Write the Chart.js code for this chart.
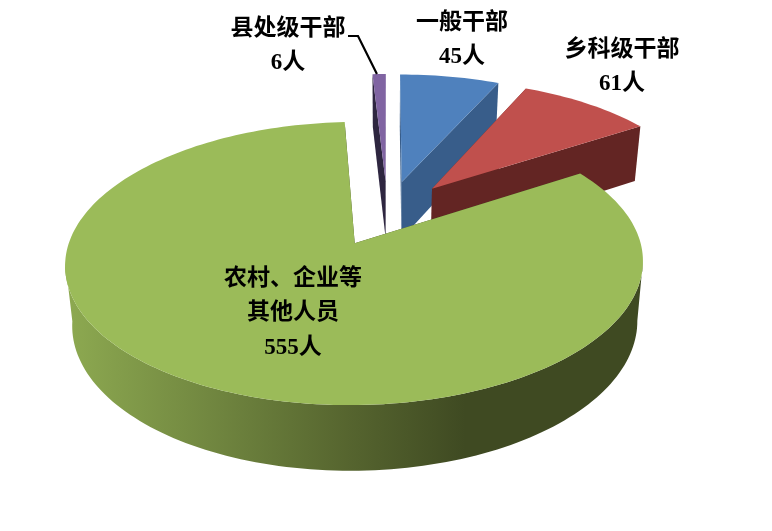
<!DOCTYPE html>
<html>
<head>
<meta charset="utf-8">
<style>
  html, body { margin: 0; padding: 0; background: #fff; }
</style>
<script src="https://cdn.jsdelivr.net/npm/chart.js@4"></script>
</head>
<body>
<canvas id="pieChart" width="772" height="531"></canvas>
<script>
const categories = ['一般干部', '乡科级干部', '农村、企业等\n其他人员', '县处级干部'];
const people = [45, 61, 555, 6];
const unit = '人';

const topColors = ['#4F81BD', '#C0504D', '#9BBB59', '#8064A2'];
const wallColors = ['#385D8A', '#632523', '#3F4A22', '#2E2640'];
const labelCenters = [[462, 23], [622, 50], [293, 279], [288, 29]];
const drawOrder = [3, 0, 1, 2];

// camera used to project the flat pie to the screen
const tilt = 0.47, cameraDist = 2000, depth = 58, bottomShrink = 0.978;

function project(arc, dx, dy, lower) {
    const s = cameraDist / (cameraDist - dy);
    const shrink = lower ? bottomShrink : 1;
    return [
        arc.x + dx * s * shrink,
        arc.y + dy * tilt * s * shrink + (lower ? depth * s : 0)
    ];
}

function outline(arc) {
    const mid = (arc.startAngle + arc.endAngle) / 2;
    const off = arc.options.offset;
    const ox = Math.cos(mid) * off, oy = Math.sin(mid) * off;
    const steps = Math.max(2, Math.ceil((arc.endAngle - arc.startAngle) * 40));
    const rim = [], front = [];
    for (let i = 0; i <= steps; i++) {
        const a = arc.startAngle + (arc.endAngle - arc.startAngle) * i / steps;
        const p = [ox + Math.cos(a) * arc.outerRadius, oy + Math.sin(a) * arc.outerRadius];
        rim.push(p);
        if (Math.sin(a) > 0.12) front.push(p);
    }
    return {apex: [ox, oy], rim: rim, front: front};
}

function fillPoly(ctx, pts, color) {
    ctx.beginPath();
    pts.forEach((p, i) => i ? ctx.lineTo(p[0], p[1]) : ctx.moveTo(p[0], p[1]));
    ctx.closePath();
    ctx.fillStyle = color;
    ctx.fill();
}

function quad(arc, a, b) {
    return [
        project(arc, a[0], a[1], false),
        project(arc, b[0], b[1], false),
        project(arc, b[0], b[1], true),
        project(arc, a[0], a[1], true)
    ];
}

const pie3d = {
    id: 'pie3d',
    beforeDatasetsDraw(chart) {
        const ctx = chart.ctx;
        const arcs = chart.getDatasetMeta(0).data;

        const rimShade = ctx.createLinearGradient(72, 0, 465, 0);
        rimShade.addColorStop(0, '#8CA850');
        rimShade.addColorStop(0.35, '#718740');
        rimShade.addColorStop(0.7, '#56652F');
        rimShade.addColorStop(1, '#3F4A22');

        drawOrder.forEach(i => {
            const arc = arcs[i];
            const {apex, rim, front} = outline(arc);

            fillPoly(ctx, quad(arc, apex, rim[0]), wallColors[i]);
            fillPoly(ctx, quad(arc, apex, rim[rim.length - 1]), wallColors[i]);
            if (front.length > 1) {
                const wall = front.map(p => project(arc, p[0], p[1], false))
                    .concat(front.slice().reverse().map(p => project(arc, p[0], p[1], true)));
                fillPoly(ctx, wall, i === 2 ? rimShade : wallColors[i]);
            }

            const face = [apex].concat(rim).map(p => project(arc, p[0], p[1], false));
            fillPoly(ctx, face, topColors[i]);
        });

        // leader line for the thin slice
        const thin = arcs[3];
        const {rim} = outline(thin);
        const tip = project(thin, rim[1][0], rim[1][1], false);
        ctx.beginPath();
        ctx.moveTo(348, 36);
        ctx.lineTo(358, 36);
        ctx.lineTo(tip[0], tip[1]);
        ctx.strokeStyle = '#000';
        ctx.lineWidth = 2.2;
        ctx.stroke();

        // labels
        ctx.fillStyle = '#000';
        ctx.textAlign = 'center';
        ctx.textBaseline = 'middle';
        ctx.font = 'bold 23px "Liberation Serif", "Noto Sans CJK SC"';
        categories.forEach((name, i) => {
            const lines = name.split('\n').concat(people[i] + unit);
            lines.forEach((line, n) => {
                ctx.fillText(line, labelCenters[i][0], labelCenters[i][1] + n * 34.5);
            });
        });
        return false;
    }
};

new Chart(document.getElementById('pieChart'), {
    type: 'pie',
    plugins: [pie3d],
    data: {
        labels: categories,
        datasets: [{
            data: people,
            backgroundColor: topColors,
            borderWidth: 0,
            offset: 70
        }]
    },
    options: {
        responsive: false,
        animation: false,
        events: [],
        radius: 277,
        rotation: 0,
        layout: { padding: { left: 3, bottom: 105 } },
        plugins: {
            legend: { display: false },
            tooltip: { enabled: false }
        }
    }
});
</script>
</body>
</html>
